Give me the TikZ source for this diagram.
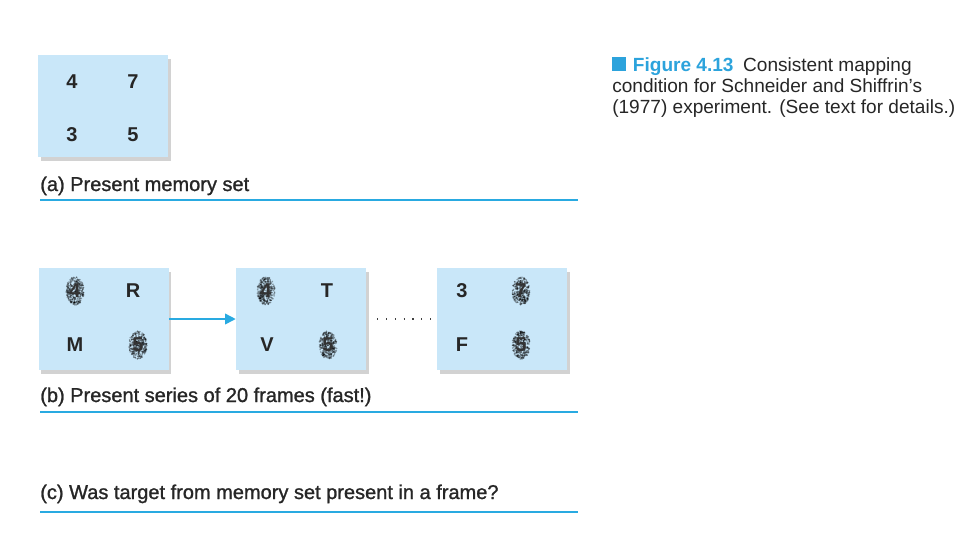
\documentclass[tikz,border=0pt]{standalone}
\usepackage{fontspec}
\setmainfont{Liberation Sans}
\usetikzlibrary{shadows,arrows.meta}
\definecolor{boxblue}{RGB}{201,231,249}
\definecolor{linecyan}{RGB}{41,170,225}
\definecolor{figblue}{RGB}{44,163,220}
\newfontfamily\semib[FakeBold=1.2]{Liberation Sans}
\tikzset{
  frame/.style={fill=boxblue, draw=none, minimum width=97.5pt, minimum height=77pt, inner sep=0pt,
    drop shadow={shadow xshift=2pt, shadow yshift=-3pt, opacity=0.25, fill=black!70}},
  glyph/.style={font=\fontsize{15}{15}\selectfont\bfseries, text=black!85, inner sep=0pt},
  lbl/.style={font=\semib\fontsize{15}{15}\selectfont, text=black!85, anchor=base west, inner sep=0pt},
  rule/.style={draw=linecyan, line width=1.3pt},
  arrowc/.style={draw=linecyan, line width=1.2pt, -{Triangle[length=8pt,width=8pt]}},
  dots/.style={draw=black!75, line width=1pt, dash pattern=on 0.9pt off 5.7pt},
}
\newcommand\maskdig[4]{% name, x, y, digit
  \foreach \k in {1,...,320}{
    \pgfmathsetmacro\ang{360*rnd}
    \pgfmathsetmacro\rad{sqrt(rnd)}
    \fill[black, opacity=0.35] ({#2+9*\rad*cos(\ang)},{#3+14*\rad*sin(\ang)}) circle (0.9);
  }
  \node[glyph, text=black!80] (#1) at (#2,#3) {#4};
}
\begin{document}
\begin{tikzpicture}[x=0.75pt, y=-0.75pt]
\pgfmathsetseed{4213}
\useasboundingbox (0,0) rectangle (960,540);
% (a)
\node[frame] (fa) at (103,106) {};
\node[glyph] (a1) at (72,82) {4};
\node[glyph] (a2) at (133,82) {7};
\node[glyph] (a3) at (72,135) {3};
\node[glyph] (a4) at (133,135) {5};
\node[lbl] (la) at (40,191) {(a) Present memory set};
\coordinate (ra1) at (40,200); \coordinate (ra2) at (578,200);
\draw[rule] (ra1) -- (ra2);
% (b)
\node[frame] (fb1) at (103.5,319) {};
\node[frame] (fb2) at (301,319) {};
\node[frame] (fb3) at (502,319) {};
\maskdig{b11}{75}{291}{4}
\node[glyph] (b12) at (133,291) {R};
\node[glyph] (b13) at (75,345) {M};
\maskdig{b14}{138}{345}{5}
\maskdig{b21}{266}{291}{4}
\node[glyph] (b22) at (327,291) {T};
\node[glyph] (b23) at (267,345) {V};
\maskdig{b24}{328}{345}{5}
\node[glyph] (b31) at (462,291) {3};
\maskdig{b32}{521}{291}{7}
\node[glyph] (b33) at (462,345) {F};
\maskdig{b34}{521}{345}{5}
\draw[arrowc] (fb1.east) -- (fb2.west);
\draw[dots, shorten <=11pt*0.75, shorten >=6pt*0.75] (fb2.east) -- (fb3.west);
\node[lbl] (lb) at (40,402) {(b) Present series of 20 frames (fast!)};
\coordinate (rb1) at (40,412); \coordinate (rb2) at (578,412);
\draw[rule] (rb1) -- (rb2);
% (c)
\node[lbl] (lc) at (40,499) {(c) Was target from memory set present in a frame?};
\coordinate (rc1) at (40,512); \coordinate (rc2) at (578,512);
\draw[rule] (rc1) -- (rc2);
% caption
\node[lbl, font=\fontsize{14.3}{15.75}\selectfont, align=left, anchor=north west, text=black!85] (cap) at (612,57)
  {\textcolor{figblue}{\rule{10.5pt}{10.5pt}}\hspace{5pt}{\bfseries\color{figblue}Figure 4.13}\enspace Consistent mapping\\condition for Schneider and Shiffrin's\\(1977) experiment. (See text for details.)};
\end{tikzpicture}
\end{document}
